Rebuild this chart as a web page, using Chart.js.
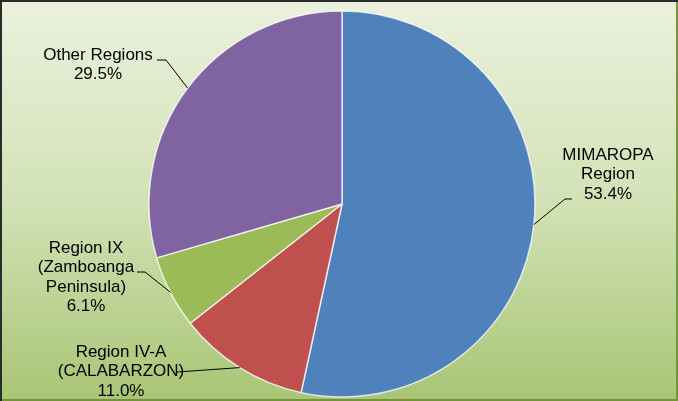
<!DOCTYPE html>
<html>
<head>
<meta charset="utf-8">
<script src="https://cdn.jsdelivr.net/npm/chart.js@4.4.0/dist/chart.umd.min.js"></script>
<style>
  html, body { margin: 0; padding: 0; background: #fff; }
  #wrap { width: 678px; height: 401px; }
</style>
</head>
<body>
<div id="wrap"><canvas id="chart" width="678" height="401"></canvas></div>
<script>
// Data
var regions = ["MIMAROPA Region", "Region IV-A (CALABARZON)", "Region IX (Zamboanga Peninsula)", "Other Regions"];
var shares = [53.4, 11.0, 6.1, 29.5];
var labelLines = [
  ["MIMAROPA", "Region"],
  ["Region IV-A", "(CALABARZON)"],
  ["Region IX", "(Zamboanga", "Peninsula)"],
  ["Other Regions"]
];
var sliceColors = ["#4f81bd", "#c0504d", "#9bbb59", "#8064a2"];

// where each label block sits: text centre x, first baseline y,
// and where the leader line leaves the text (elbow = end of short horizontal bit)
var labelLayout = [
  {x: 608, y: 160, lx: 572, ly: 199, elbow: 565},
  {x: 121, y: 357, lx: 177, ly: 372, elbow: null},
  {x: 86, y: 253, lx: 137, ly: 272, elbow: 145},
  {x: 98, y: 60, lx: 157, ly: 60, elbow: 166}
];
var lineHeight = 19.3;

// green gradient background + frame
var backgroundPlugin = {
  id: "bg",
  beforeDraw: function(chart) {
    var ctx = chart.ctx;
    var w = chart.width, h = chart.height;
    var grad = ctx.createLinearGradient(0, 0, 0, h);
    grad.addColorStop(0, "#ebf1de");
    grad.addColorStop(0.5, "#d2e2b6");
    grad.addColorStop(1, "#a8c575");
    ctx.save();
    ctx.fillStyle = grad;
    ctx.fillRect(0, 0, w, h);
    ctx.restore();
  },
  afterDraw: function(chart) {
    var ctx = chart.ctx;
    var w = chart.width, h = chart.height;
    ctx.save();
    ctx.lineWidth = 2;
    ctx.strokeStyle = "#77933c";
    ctx.beginPath();
    ctx.moveTo(w - 1, 0); ctx.lineTo(w - 1, h - 1); ctx.lineTo(0, h - 1);
    ctx.stroke();
    ctx.strokeStyle = "#2b2b2b";
    ctx.beginPath();
    ctx.moveTo(1, h); ctx.lineTo(1, 1); ctx.lineTo(w, 1);
    ctx.stroke();
    ctx.restore();
  }
};

// outside labels with leader lines, anchored on each slice's outer midpoint
var labelPlugin = {
  id: "pieLabels",
  afterDatasetsDraw: function(chart) {
    var ctx = chart.ctx;
    var arcs = chart.getDatasetMeta(0).data;
    ctx.save();
    arcs.forEach(function(arc, i) {
      var lay = labelLayout[i];
      var mid = (arc.startAngle + arc.endAngle) / 2;
      var ex = arc.x + Math.cos(mid) * arc.outerRadius;
      var ey = arc.y + Math.sin(mid) * arc.outerRadius;

      ctx.strokeStyle = "#000";
      ctx.lineWidth = 1;
      ctx.beginPath();
      ctx.moveTo(lay.lx, lay.ly);
      if (lay.elbow !== null) ctx.lineTo(lay.elbow, lay.ly);
      ctx.lineTo(ex, ey);
      ctx.stroke();

      var lines = labelLines[i].concat([shares[i].toFixed(1) + "%"]);
      ctx.fillStyle = "#000";
      ctx.font = "17px 'Liberation Sans', Arial, sans-serif";
      ctx.textAlign = "center";
      ctx.textBaseline = "alphabetic";
      lines.forEach(function(t, k) {
        ctx.fillText(t, lay.x, lay.y + k * lineHeight);
      });
    });
    ctx.restore();
  }
};

var chart = new Chart(document.getElementById("chart"), {
  type: "pie",
  data: {
    labels: regions,
    datasets: [{
      data: shares,
      backgroundColor: sliceColors,
      borderColor: "rgba(255,255,255,0.75)",
      borderWidth: 1.5
    }]
  },
  options: {
    responsive: false,
    animation: false,
    radius: 193,
    layout: { padding: { top: 11, bottom: 4, left: 6, right: 0 } },
    plugins: {
      legend: { display: false },
      tooltip: { enabled: false }
    }
  },
  plugins: [backgroundPlugin, labelPlugin]
});
</script>
</body>
</html>
